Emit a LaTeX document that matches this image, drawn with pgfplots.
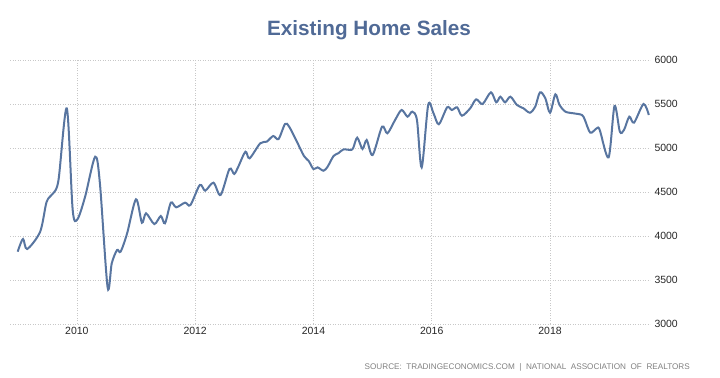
\documentclass[border=0pt]{standalone}
\usepackage{fontspec}
\setmainfont{Liberation Sans}
\usepackage{pgfplots}
\pgfplotsset{compat=1.18}
\definecolor{linec}{RGB}{88,117,160}
\definecolor{titlec}{RGB}{80,106,150}
\definecolor{gridc}{RGB}{200,200,200}
\definecolor{srcc}{RGB}{128,128,128}
\begin{document}
\begin{tikzpicture}
\useasboundingbox (0bp,0bp) rectangle (720bp,378bp);
\begin{axis}[
  at={(10bp,54bp)}, anchor=south west,
  scale only axis, width=640bp, height=264bp,
  xmin=2008.87, xmax=2019.69, ymin=3000, ymax=6000,
  xtick={2010,2012,2014,2016,2018}, ytick={3000,3500,4000,4500,5000,5500,6000},
  yticklabel pos=right,
  axis line style={draw=none},
  major tick length=0pt,
  grid=major,
  major grid style={gridc, line width=0.6bp, dash pattern=on 1bp off 1.5bp},
  /pgf/number format/1000 sep={},
  /pgf/number format/assume math mode=true,
  ticklabel style={font=\fontsize{10.5}{12}\selectfont, text=black!85},
  yticklabel style={anchor=west, xshift=1bp},
  clip=false,
]
\addplot[linec, line width=2bp, smooth] coordinates {
(2009.00,3822) (2009.09,3966) (2009.16,3852) (2009.38,4049) (2009.49,4390)
(2009.60,4485) (2009.69,4636) (2009.83,5451) (2009.93,4295) (2010.01,4190)
(2010.14,4447) (2010.31,4901) (2010.39,4598) (2010.52,3417) (2010.59,3689)
(2010.68,3841) (2010.74,3822) (2010.85,4030) (2011.00,4417) (2011.10,4151)
(2011.17,4258) (2011.31,4136) (2011.42,4227) (2011.49,4144) (2011.59,4379)
(2011.68,4326) (2011.83,4379) (2011.92,4352) (2012.08,4580) (2012.17,4515)
(2012.31,4606) (2012.43,4466) (2012.58,4761) (2012.66,4705) (2012.73,4788)
(2012.85,4958) (2012.92,4883) (2013.10,5053) (2013.21,5072) (2013.32,5136)
(2013.41,5102) (2013.52,5273) (2013.59,5242) (2013.72,5072) (2013.84,4909)
(2013.92,4852) (2014.00,4761) (2014.07,4780) (2014.17,4742) (2014.24,4788)
(2014.34,4909) (2014.42,4940) (2014.51,4985) (2014.62,4977) (2014.67,4996)
(2014.74,5117) (2014.83,4989) (2014.90,5091) (2015.00,4920) (2015.16,5242)
(2015.25,5167) (2015.38,5318) (2015.49,5432) (2015.59,5356) (2015.67,5413)
(2015.75,5318) (2015.83,4780) (2015.94,5489) (2016.03,5394) (2016.12,5270)
(2016.26,5462) (2016.34,5432) (2016.43,5462) (2016.51,5367) (2016.65,5451)
(2016.75,5553) (2016.86,5500) (2017.00,5633) (2017.09,5519) (2017.16,5583)
(2017.24,5519) (2017.33,5583) (2017.44,5489) (2017.55,5451) (2017.66,5401)
(2017.75,5470) (2017.83,5633) (2017.92,5565) (2018.00,5401) (2018.09,5610)
(2018.16,5489) (2018.26,5413) (2018.40,5394) (2018.54,5375) (2018.59,5318)
(2018.68,5174) (2018.79,5224) (2018.84,5205) (2018.99,4894) (2019.09,5477)
(2019.18,5186) (2019.25,5205) (2019.34,5356) (2019.42,5288) (2019.58,5500)
(2019.67,5375)
};
\end{axis}
\node[font=\fontsize{20.8}{24}\selectfont\bfseries, text=titlec, anchor=base, inner sep=0pt] at (369bp,342bp) {Existing Home Sales};
\node[font=\fontsize{8.2}{10}\selectfont, text=srcc, anchor=base east, inner sep=0pt] at (690bp,9bp) {SOURCE:\ \ TRADINGECONOMICS.COM\ \ |\ \ NATIONAL\ \ ASSOCIATION\ \ OF\ \ REALTORS};
\end{tikzpicture}
\end{document}
